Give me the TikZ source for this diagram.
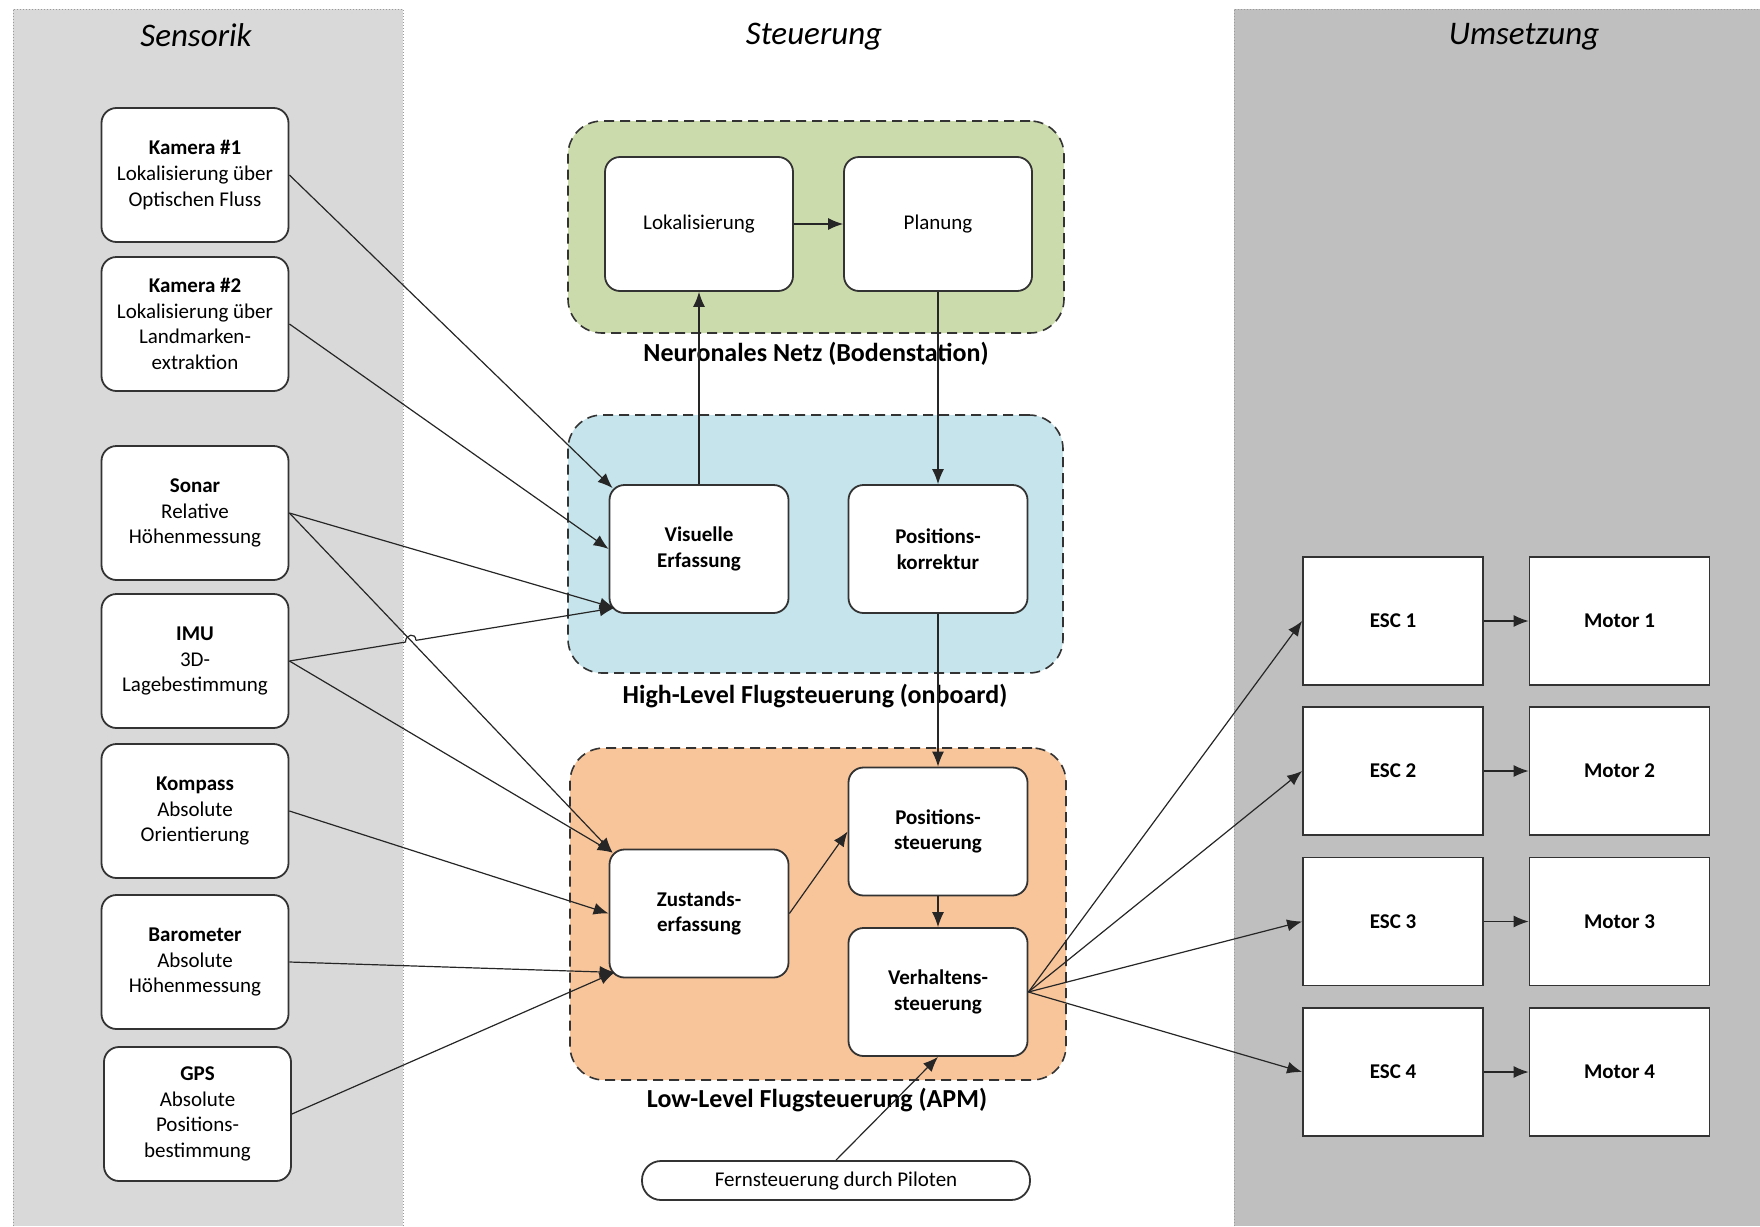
\documentclass[tikz,border=0pt]{standalone}
\usepackage{fontspec}
\setmainfont{Carlito}
\usetikzlibrary{arrows.meta,calc}
\definecolor{laneA}{HTML}{D9D9D9}
\definecolor{laneC}{HTML}{BFBFBF}
\definecolor{grpGreen}{HTML}{CCDBAB}
\definecolor{grpBlue}{HTML}{C5E4EB}
\definecolor{grpOrange}{HTML}{F8C59A}
\definecolor{edgec}{HTML}{333333}
\definecolor{linec}{HTML}{262626}
\definecolor{dotc}{HTML}{9A9A9A}
\begin{document}
\begin{tikzpicture}[x=0.5pt,y=-0.5pt,
  txt/.style={font=\fontsize{10.5}{12.8}\selectfont},
  sbox/.style={draw=edgec, line width=0.9pt, fill=white, rounded corners=7.5pt, align=center, inner sep=0pt, txt},
  sensor/.style={sbox, minimum width=93.5pt, minimum height=67pt},
  inbox/.style={sbox, minimum width=89.5pt, minimum height=64pt},
  nnbox/.style={sbox, minimum width=94pt, minimum height=67pt},
  outbox/.style={draw=edgec, line width=0.9pt, fill=white, align=center, inner sep=0pt, minimum width=90pt, minimum height=64pt, font=\fontsize{10.5}{12.8}\selectfont\bfseries},
  grp/.style={draw=edgec, dash pattern=on 5pt off 3pt, line width=0.8pt, rounded corners=17pt, inner sep=0pt},
  grplabel/.style={font=\fontsize{13}{15}\selectfont\bfseries},
  lanetitle/.style={font=\fontsize{16.5}{20}\selectfont\itshape},
  lane/.style={draw=dotc, densely dotted, line width=0.5pt},
  conn/.style={draw=linec, line width=0.6pt, -{Latex[length=7.5pt,width=6pt]}},
  plain/.style={draw=linec, line width=0.6pt}
]
\useasboundingbox (0,0) rectangle (1760,1226);
% lanes
\fill[laneA] (13,9) rectangle (403,1226);
\draw[lane] (13,1226) -- (13,9) -- (403,9) -- (403,1226);
\fill[laneC] (1234,9) rectangle (1760,1226);
\draw[lane] (1234,1226) -- (1234,9) -- (1760,9);
\node[lanetitle] (tsens) at (196,35) {Sensorik};
\node[lanetitle] (tsteu) at (814,37) {Steuerung};
\node[lanetitle] (tums) at (1524,37) {Umsetzung};

% groups
\node[grp, fill=grpGreen, minimum width=248pt, minimum height=106pt] (gnn) at (816,227) {};
\node[grp, fill=grpBlue, minimum width=247.5pt, minimum height=129pt] (ghl) at (815.5,544) {};
\node[grp, fill=grpOrange, minimum width=248pt, minimum height=166pt] (gll) at (818,914) {};
\node[grplabel] (lnn) at (816,354) {Neuronales Netz (Bodenstation)};
\node[grplabel] (lhl) at (815,696) {High-Level Flugsteuerung (onboard)};
\node[grplabel] (lll) at (817,1100) {Low-Level Flugsteuerung (APM)};

% sensors
\node[sensor] (k1) at (195,175) {\textbf{Kamera \#1}\\Lokalisierung über\\Optischen Fluss};
\node[sensor] (k2) at (195,324) {\textbf{Kamera \#2}\\Lokalisierung über\\Landmarken-\\extraktion};
\node[sensor] (sonar) at (195,513) {\textbf{Sonar}\\Relative\\Höhenmessung};
\node[sensor] (imu) at (195,661) {\textbf{IMU}\\3D-\\Lagebestimmung};
\node[sensor] (komp) at (195,811) {\textbf{Kompass}\\Absolute\\Orientierung};
\node[sensor] (baro) at (195,962) {\textbf{Barometer}\\Absolute\\Höhenmessung};
\node[sensor] (gps) at (197.5,1114) {\textbf{GPS}\\Absolute\\Positions-\\bestimmung};

% Steuerung boxes
\node[nnbox] (lok) at (699,224) {Lokalisierung};
\node[nnbox] (plan) at (938,224) {Planung};
\node[inbox] (ve) at (699,549) {\textbf{Visuelle}\\\textbf{Erfassung}};
\node[inbox] (pk) at (938,549) {\textbf{Positions-}\\\textbf{korrektur}};
\node[inbox] (ps) at (938,831.5) {\textbf{Positions-}\\\textbf{steuerung}};
\node[inbox] (vs) at (938,992) {\textbf{Verhaltens-}\\\textbf{steuerung}};
\node[inbox] (z) at (699,913.5) {\textbf{Zustands-}\\\textbf{erfassung}};
\node[sbox, rounded corners=9.5pt, minimum width=194pt, minimum height=19.5pt] (fern) at (836,1180.5) {Fernsteuerung durch Piloten};

% Umsetzung boxes
\foreach \i/\yy in {1/621,2/771,3/921.5,4/1072}{
  \node[outbox] (esc\i) at (1393,\yy) {ESC \i};
  \node[outbox] (mot\i) at (1619.5,\yy) {Motor \i};
}

% connectors sensors -> steuerung
\coordinate (veA) at ([shift={(4,4)}]ve.north west);
\coordinate (veC) at ([shift={(6,-6)}]ve.south west);
\coordinate (zA) at ([shift={(4,4)}]z.north west);
\coordinate (zC) at ([shift={(6,-6)}]z.south west);
\draw[conn] (k1.east) -- (veA);
\draw[conn] (k2.east) -- (ve.west);
\draw[conn] (sonar.east) -- (veC);
\draw[conn] (sonar.east) -- (zA);
\coordinate (j1) at ($(imu.east)!0.357!(veC)$);
\coordinate (j2) at ($(imu.east)!0.389!(veC)$);
\draw[plain] (imu.east) -- (j1) .. controls ($(j1)+(0,-8)$) and ($(j2)+(0,-8)$) .. (j2);
\draw[conn] (j2) -- (veC);
\draw[conn] (imu.east) -- (zA);
\draw[conn] (komp.east) -- (z.west);
\draw[conn] (baro.east) -- (zC);
\draw[conn] (gps.east) -- (zC);

% internal
\draw[conn] (ve.north) -- (lok.south);
\draw[conn] (lok.east) -- (plan.west);
\draw[conn] (plan.south) -- (pk.north);
\draw[conn] (pk.south) -- (ps.north);
\draw[conn] (z.east) -- (ps.west);
\draw[conn] (ps.south) -- (vs.north);
\draw[conn] (fern.north) -- (vs.south);

% outputs
\foreach \i in {1,2,3,4}{
  \draw[conn] (vs.east) -- (esc\i.west);
  \draw[conn] (esc\i.east) -- (mot\i.west);
}
\end{tikzpicture}
\end{document}
